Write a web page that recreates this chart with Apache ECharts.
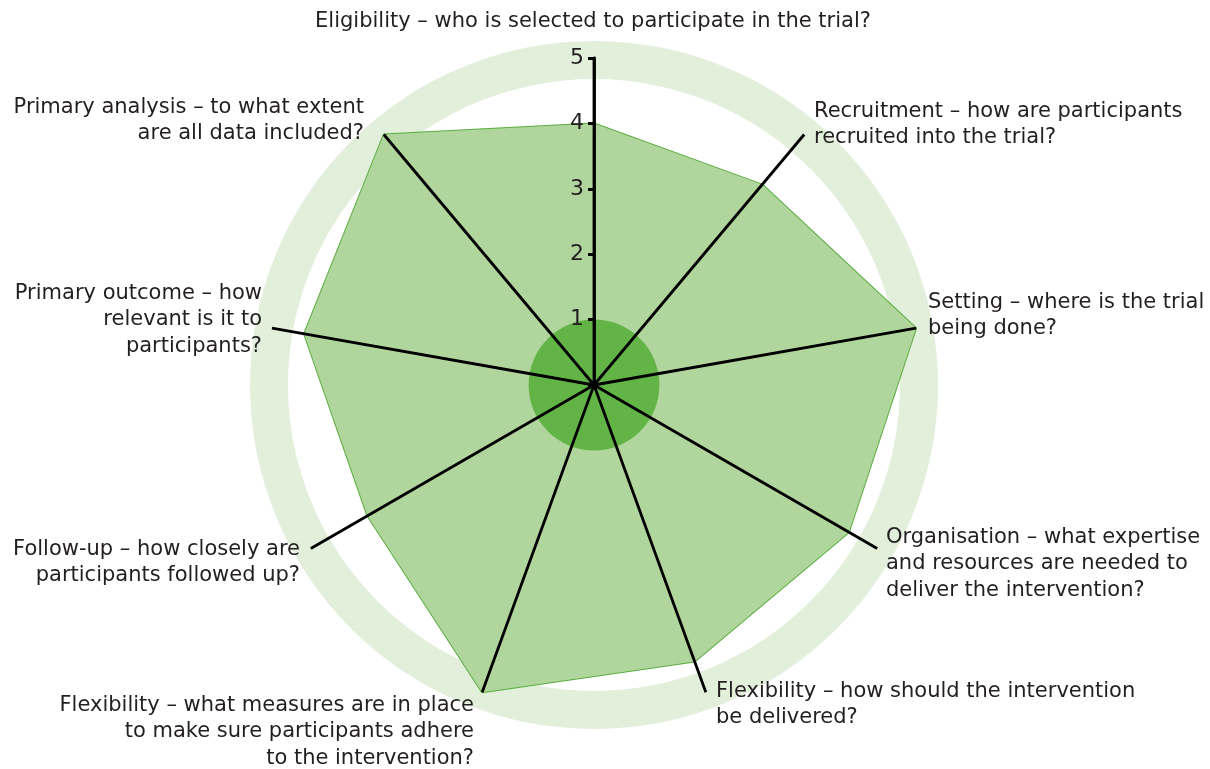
<!DOCTYPE html>
<html><head><meta charset="utf-8">
<script src="https://cdn.jsdelivr.net/npm/echarts@6/dist/echarts.min.js"></script>
<style>html,body{margin:0;padding:0;background:#fff}#c{width:1210px;height:769px}</style>
</head><body><div id="c"></div>
<script>
// Domains in clockwise order starting at the top
const domains = [
  'Eligibility', 'Recruitment', 'Setting', 'Organisation', 'Flexibility (delivery)',
  'Flexibility (adherence)', 'Follow-up', 'Primary outcome', 'Primary analysis'
];
const scores = [4, 4, 5, 4.5, 4.5, 5, 4, 4.5, 5];
const tickLabels = ['1', '2', '3', '4', '5'];
const domainLabels = [
  'Eligibility – who is selected to participate in the trial?',
  'Recruitment – how are participants\nrecruited into the trial?',
  'Setting – where is the trial\nbeing done?',
  'Organisation – what expertise\nand resources are needed to\ndeliver the intervention?',
  'Flexibility – how should the intervention\nbe delivered?',
  'Flexibility – what measures are in place\nto make sure participants adhere\nto the intervention?',
  'Follow-up – how closely are\nparticipants followed up?',
  'Primary outcome – how\nrelevant is it to\nparticipants?',
  'Primary analysis – to what extent\nare all data included?'
];

const CX = 594, CY = 385, R = 327, MAX = 5;
const FONT = '"DejaVu Sans", "Open Sans", sans-serif';
const TXT = '#231f20';

// radar lays indicators out counter-clockwise; reverse to get clockwise order
const order = [0, 8, 7, 6, 5, 4, 3, 2, 1];

// label placement (anchor, alignment) per domain
const labelPos = [
  { x: 593, y: 22, align: 'center', va: 'middle' },
  { x: 814, y: 98, align: 'left', va: 'top' },
  { x: 928, y: 289, align: 'left', va: 'top' },
  { x: 886, y: 524, align: 'left', va: 'top' },
  { x: 716, y: 678, align: 'left', va: 'top' },
  { x: 474, y: 692, align: 'right', va: 'top' },
  { x: 300, y: 536, align: 'right', va: 'top' },
  { x: 262, y: 280, align: 'right', va: 'top' },
  { x: 364, y: 94, align: 'right', va: 'top' }
];

const chart = echarts.init(document.getElementById('c'));
chart.setOption({
  animation: false,
  backgroundColor: '#ffffff',
  radar: {
    center: [CX, CY],
    radius: R,
    startAngle: 90,
    shape: 'polygon',
    indicator: order.map(i => ({ name: domains[i], max: MAX, min: 0 })),
    splitNumber: 5,
    axisName: { show: false },
    axisLine: { show: false },
    axisTick: { show: false },
    axisLabel: { show: false },
    splitLine: { show: false },
    splitArea: { show: false }
  },
  polar: [
    { center: [CX, CY], radius: R },
    { center: [CX, CY], radius: R }
  ],
  angleAxis: [
    {
      polarIndex: 0, type: 'value', min: 0, max: 360, interval: 360 / domains.length,
      startAngle: 90, clockwise: true, z: 9,
      axisLine: { show: false }, axisTick: { show: false }, axisLabel: { show: false },
      splitLine: { show: true, lineStyle: { color: '#000000', width: 2.8 } }
    },
    {
      polarIndex: 1, type: 'value', min: 0, max: 360, startAngle: 90, clockwise: true,
      axisLine: { show: false }, axisTick: { show: false }, axisLabel: { show: false },
      splitLine: { show: false }
    }
  ],
  radiusAxis: [
    {
      polarIndex: 0, type: 'value', min: 0, max: MAX, interval: 1, z: 10,
      axisLine: { show: true, lineStyle: { color: '#000000', width: 2.8 } },
      axisTick: { show: true, length: 6, lineStyle: { color: '#000000', width: 2.8 } },
      axisLabel: {
        show: true, margin: 10, fontSize: 22, fontFamily: FONT, color: TXT,
        formatter: v => (v > 0 ? tickLabels[v - 1] : '')
      },
      splitLine: { show: false }
    },
    {
      polarIndex: 1, type: 'value', min: 0, max: MAX, interval: 1, z: 10,
      axisLine: { show: false },
      axisTick: { show: true, inside: true, length: 6, lineStyle: { color: '#000000', width: 2.8 } },
      axisLabel: { show: false },
      splitLine: { show: false }
    }
  ],
  series: [
    {
      name: 'ring', type: 'pie', silent: true, z: 1,
      center: [CX, CY], radius: [R - 21, R + 17],
      label: { show: false }, labelLine: { show: false },
      itemStyle: { color: '#e1efdb' },
      data: [{ value: 1, name: 'ring' }]
    },
    {
      name: 'PRECIS-2', type: 'radar', radarIndex: 0, z: 2,
      symbol: 'none',
      lineStyle: { color: '#5aad40', width: 2 },
      areaStyle: { color: '#b0d69d', opacity: 1 },
      data: [{ value: order.map(i => scores[i]), name: 'Trial' }]
    },
    {
      name: 'core', type: 'pie', silent: true, z: 3,
      center: [CX, CY], radius: [0, R / MAX],
      label: { show: false }, labelLine: { show: false },
      itemStyle: { color: '#63b446' },
      data: [{ value: 1, name: 'core' }]
    }
  ],
  graphic: domainLabels.map((t, i) => ({
    type: 'text', z: 20, silent: true,
    x: labelPos[i].x, y: labelPos[i].y,
    style: {
      text: t, fill: TXT, fontSize: 21, fontFamily: FONT, lineHeight: 26.5,
      textAlign: labelPos[i].align, textVerticalAlign: labelPos[i].va
    }
  }))
});
</script>
</body></html>
